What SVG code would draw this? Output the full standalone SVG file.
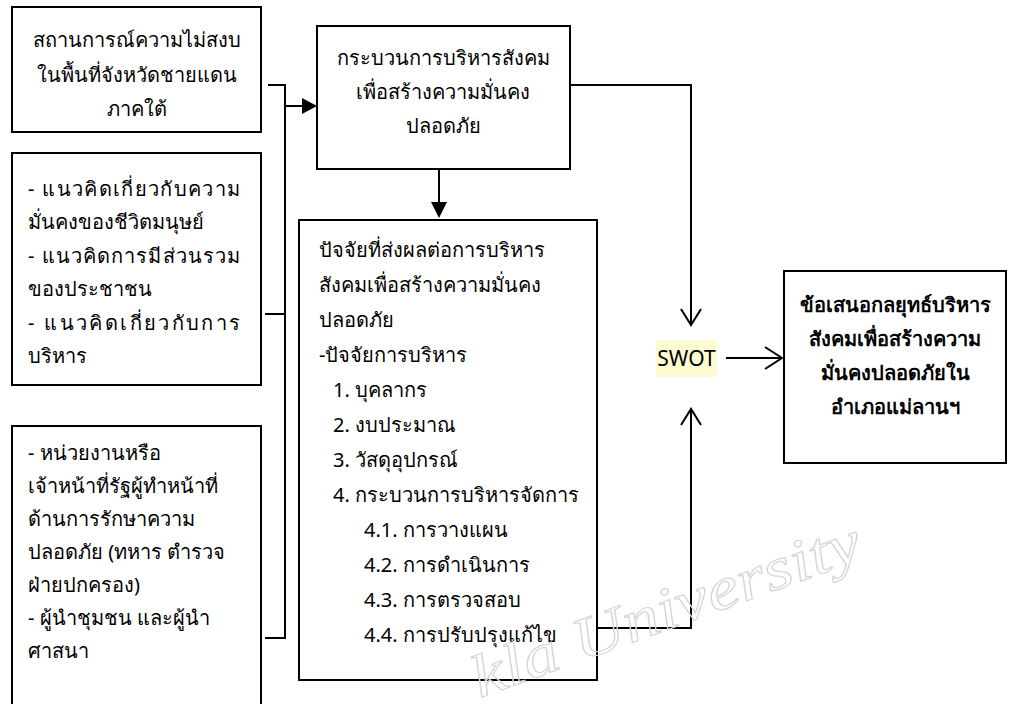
<svg xmlns="http://www.w3.org/2000/svg" width="1012" height="704" viewBox="0 0 1012 704">
<defs>
<style>
.box{fill:#fff;stroke:#000;stroke-width:2}
.ln{fill:none;stroke:#000;stroke-width:2}
.t{font-family:"Noto Sans","DejaVu Sans",sans-serif;font-size:20px;fill:#000}
.c{text-anchor:middle}
.b{font-weight:bold}
.wm{font-family:"Liberation Serif",serif;font-style:italic;font-size:60px;fill:none;stroke:#d6d6d6;stroke-width:1.2}
</style>
</defs>
<rect width="1012" height="704" fill="#fff"/>
<g id="connectors">
<polyline class="ln" points="268,85 285,85 285,638 265,638"/>
<line class="ln" x1="265" y1="314" x2="285" y2="314"/>
<line class="ln" x1="285" y1="106" x2="303" y2="106"/>
<polygon points="302,98 317,106 302,114" fill="#000"/>
<line class="ln" x1="439" y1="169" x2="439" y2="203"/>
<polygon points="431,202 447,202 439,218" fill="#000"/>
<polyline class="ln" points="570,85 691,85 691,324"/>
<polyline class="ln" points="681,309 691,325 701,309"/>
<polyline class="ln" points="597,628 691,628 691,409"/>
<polyline class="ln" points="681,425 691,409 701,425"/>
<line class="ln" x1="726" y1="358" x2="782" y2="358"/>
<polyline class="ln" points="765,347 782,358 765,369"/>
</g>
<g id="n1">
<rect class="box" x="12" y="7" width="249" height="125"/>
<text class="t c" x="137" y="47">สถานการณ์ความไม่สงบ</text>
<text class="t c" x="137" y="82">ในพื้นที่จังหวัดชายแดน</text>
<text class="t c" x="137" y="116">ภาคใต้</text>
</g>
<g id="n2">
<rect class="box" x="12" y="153" width="249" height="232"/>
<text class="t" x="28" y="196" textLength="212" lengthAdjust="spacing">- แนวคิดเกี่ยวกับความ</text>
<text class="t" x="28" y="229">มั่นคงของชีวิตมนุษย์</text>
<text class="t" x="28" y="263" textLength="212" lengthAdjust="spacing">- แนวคิดการมีส่วนรวม</text>
<text class="t" x="28" y="296">ของประชาชน</text>
<text class="t" x="28" y="330" textLength="212" lengthAdjust="spacing">- แนวคิดเกี่ยวกับการ</text>
<text class="t" x="28" y="363">บริหาร</text>
</g>
<g id="n3">
<rect class="box" x="12" y="426" width="249" height="290"/>
<text class="t" x="28" y="460">- หน่วยงานหรือ</text>
<text class="t" x="28" y="493">เจ้าหน้าที่รัฐผู้ทำหน้าที่</text>
<text class="t" x="28" y="526">ด้านการรักษาความ</text>
<text class="t" x="28" y="559">ปลอดภัย (ทหาร ตำรวจ</text>
<text class="t" x="28" y="592">ฝ่ายปกครอง)</text>
<text class="t" x="28" y="625">- ผู้นำชุมชน และผู้นำ</text>
<text class="t" x="28" y="658">ศาสนา</text>
</g>
<g id="n4">
<rect class="box" x="317" y="26" width="253" height="143"/>
<text class="t c" x="443" y="65">กระบวนการบริหารสังคม</text>
<text class="t c" x="443" y="99">เพื่อสร้างความมั่นคง</text>
<text class="t c" x="443" y="133">ปลอดภัย</text>
</g>
<g id="n5">
<rect class="box" x="299" y="220" width="298" height="460"/>
<text class="t" x="319" y="257">ปัจจัยที่ส่งผลต่อการบริหาร</text>
<text class="t" x="319" y="292">สังคมเพื่อสร้างความมั่นคง</text>
<text class="t" x="319" y="327">ปลอดภัย</text>
<text class="t" x="319" y="362">-ปัจจัยการบริหาร</text>
<text class="t" x="333" y="397">1. บุคลากร</text>
<text class="t" x="333" y="432">2. งบประมาณ</text>
<text class="t" x="333" y="467">3. วัสดุอุปกรณ์</text>
<text class="t" x="333" y="502">4. กระบวนการบริหารจัดการ</text>
<text class="t" x="364" y="537">4.1. การวางแผน</text>
<text class="t" x="364" y="572">4.2. การดำเนินการ</text>
<text class="t" x="364" y="607">4.3. การตรวจสอบ</text>
<text class="t" x="364" y="642">4.4. การปรับปรุงแก้ไข</text>
</g>
<g id="swot">
<rect x="656" y="340" width="61" height="37" fill="#fffbd0"/>
<text class="t c" x="686.5" y="366" style="font-size:21px">SWOT</text>
</g>
<g id="n6">
<rect class="box" x="784" y="271" width="222" height="192"/>
<text class="t c b" x="895" y="312">ข้อเสนอกลยุทธ์บริหาร</text>
<text class="t c b" x="895" y="346">สังคมเพื่อสร้างความ</text>
<text class="t c b" x="895" y="380">มั่นคงปลอดภัยใน</text>
<text class="t c b" x="895" y="414">อำเภอแม่ลานฯ</text>
</g>
<text class="wm" transform="translate(480,698) rotate(-20)" textLength="410" lengthAdjust="spacingAndGlyphs">kla University</text>
</svg>
